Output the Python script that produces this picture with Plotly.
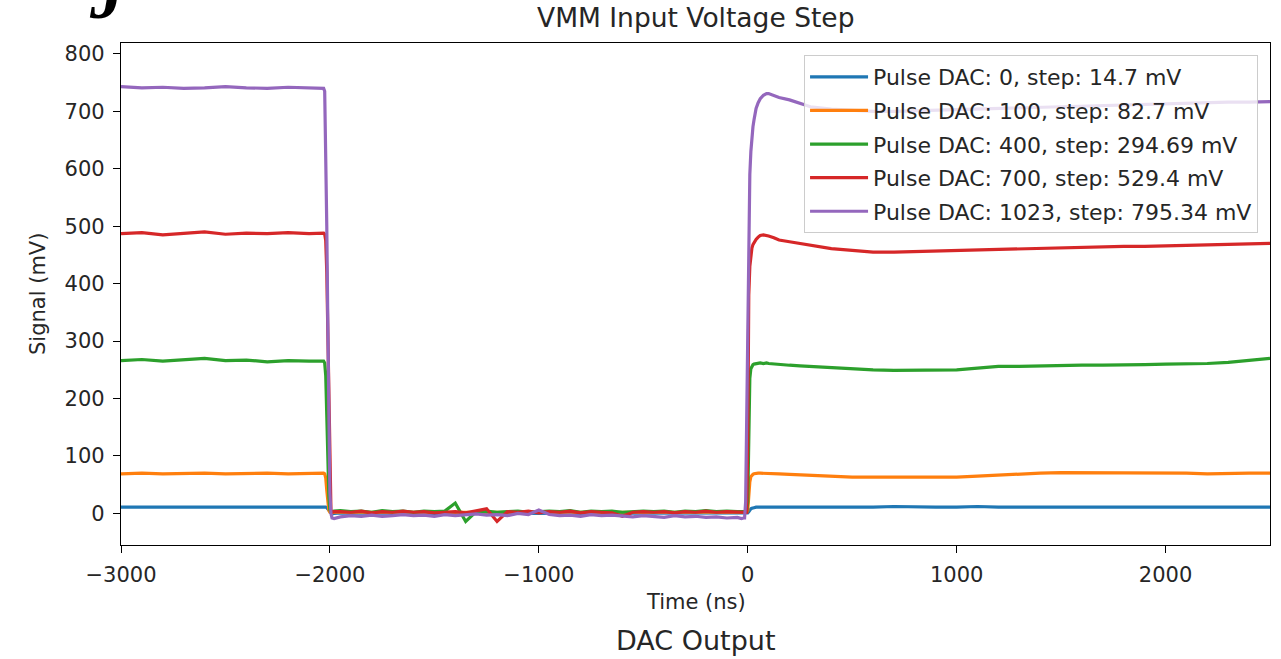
import plotly.graph_objects as go

# ---------------- data ----------------
time_ns = [
    -3000, -2900, -2800, -2700, -2600, -2500, -2400, -2300, -2200, -2100,
    -2050, -2030, -2025, -2020, -2015, -2010, -2005, -2000, -1995, -1990, -1980,
    -1950, -1900, -1850, -1800, -1750, -1700, -1650, -1600, -1550, -1500,
    -1450, -1400, -1350, -1300, -1250, -1200, -1150, -1100, -1050, -1000,
    -950, -900, -850, -800, -750, -700, -650, -600, -550, -500,
    -450, -400, -350, -300, -250, -200, -150, -100, -50,
    -30, -20, -15, -10, -5, 0, 5, 10, 15, 20, 25, 30,
    40, 50, 60, 75, 90, 100, 125, 150, 200, 250, 300,
    400, 500, 600, 700, 800, 900, 1000, 1100, 1200, 1300, 1400,
    1500, 1600, 1700, 1800, 1900, 2000, 2100, 2200, 2300, 2400, 2500,
]

signal_dac0 = [
    11, 11, 12, 11, 11, 12, 11, 11, 12, 11,
    11, 11, 11, 11, 10, 8, 5, 2, 0, -1, 0,
    1, 0, 1, 0, 1, 0, 1, 0, 1, 0,
    0, 1, 0, 1, 0, 0, 1, 0, 1, 0,
    0, 1, 0, 0, 1, 0, 1, 0, 0, 1,
    0, 1, 0, 0, 1, 0, 0, 1, 0,
    0, 0, 0, 0, 0, 1, 3, 6, 8, 9, 10, 10,
    11, 11, 11, 11, 11, 11, 11, 10, 10, 11, 11,
    11, 11, 11, 12, 11, 11, 11, 12, 11, 11, 11,
    11, 12, 11, 11, 12, 11, 11, 12, 11, 11, 11,
]

signal_dac100 = [
    69, 70, 69, 70, 70, 69, 70, 70, 69, 70,
    70, 70, 69, 62, 40, 15, 5, 2, 1, 1, 2,
    2, 1, 2, 1, 2, 1, 2, 2, 1, 2,
    1, 2, 1, 2, 1, 2, 1, 2, 1, 2,
    2, 1, 2, 1, 2, 1, 2, 1, 2, 1,
    2, 1, 2, 1, 2, 1, 2, 1, 2,
    1, 1, 1, 1, 2, 5, 35, 55, 64, 67, 68, 69,
    70, 70, 70, 70, 70, 69, 69, 69, 68, 67, 66,
    64, 63, 63, 63, 62, 63, 63, 65, 67, 69, 70,
    71, 71, 71, 70, 70, 70, 70, 69, 70, 70, 70,
]

signal_dac400 = [
    266, 268, 265, 268, 270, 266, 267, 264, 266, 265,
    266, 265, 262, 240, 170, 90, 30, 6, 2, 3, 4,
    5, 3, 4, 2, 5, 3, 4, 2, 4, 3,
    4, 18, -14, 3, 4, 2, 3, 4, 2, 3,
    4, 3, 5, 2, 4, 3, 4, 2, 3, 4,
    3, 4, 2, 4, 3, 5, 3, 4, 3,
    3, 3, 3, 3, 3, 20, 150, 235, 252, 257, 259, 260,
    261, 262, 262, 261, 262, 261, 260, 259, 258, 257, 256,
    253, 251, 250, 249, 249, 250, 250, 253, 256, 256, 257,
    257, 258, 258, 258, 259, 260, 260, 261, 263, 266, 270,
]

signal_dac700 = [
    487, 489, 485, 488, 490, 486, 488, 487, 489, 487,
    487, 488, 486, 475, 420, 300, 160, 40, 6, 2, 3,
    3, 2, 4, 1, 3, 2, 4, 2, 3, 1,
    2, 3, 1, 5, 8, -14, 3, 2, 4, 1,
    3, 2, 4, 1, 3, 2, 1, -5, 2, 3,
    2, 3, 1, 3, 2, 4, 2, 3, 2,
    2, 2, 2, 2, 2, 120, 380, 430, 450, 462, 468, 472,
    477, 481, 484, 485, 484, 483, 480, 476, 473, 470, 466,
    461, 458, 455, 455, 456, 456, 458, 459, 460, 461, 462,
    463, 464, 464, 465, 465, 466, 467, 467, 468, 469, 470,
]

signal_dac1023 = [
    743, 741, 742, 740, 741, 743, 741, 740, 742, 741,
    740, 740, 735, 640, 500, 330, 150, 35, 0, -8, -9,
    -6, -4, -5, -3, -5, -4, -2, -4, -3, -5,
    -2, -4, -3, -1, -3, -2, -4, 0, -2, 6,
    -2, -4, -3, -5, -2, -4, -3, -5, -6, -4,
    -5, -7, -4, -6, -5, -7, -6, -8, -7,
    -9, -8, -8, 20, 180, 380, 500, 590, 630, 655, 673, 685,
    705, 715, 722, 728, 731, 731, 728, 724, 720, 714, 708,
    704, 702, 700, 700, 701, 702, 704, 705, 706, 707, 708,
    709, 710, 711, 711, 712, 713, 714, 715, 716, 716, 717,
]

series_names = [
    "Pulse DAC: 0, step: 14.7 mV",
    "Pulse DAC: 100, step: 82.7 mV",
    "Pulse DAC: 400, step: 294.69 mV",
    "Pulse DAC: 700, step: 529.4 mV",
    "Pulse DAC: 1023, step: 795.34 mV",
]
series_values = [signal_dac0, signal_dac100, signal_dac400, signal_dac700, signal_dac1023]
series_colors = ["#1f77b4", "#ff7f0e", "#2ca02c", "#d62728", "#9467bd"]

x_ticks = [-3000, -2000, -1000, 0, 1000, 2000]
y_ticks = [0, 100, 200, 300, 400, 500, 600, 700, 800]

# ---------------- figure ----------------
FONT = "DejaVu Sans"
TXT = "#262626"

fig = go.Figure()
for i, (name, vals, col) in enumerate(zip(series_names, series_values, series_colors)):
    fig.add_trace(go.Scatter(
        x=time_ns, y=vals, mode="lines", name=name, legendgroup=f"g{i}",
        line=dict(color=col, width=3.2),
    ))

axis_common = dict(
    showline=True, mirror=True, linecolor="black", linewidth=1.3,
    ticks="outside", ticklen=7, tickwidth=1.3, tickcolor="black",
    tickfont=dict(family=FONT, size=21, color=TXT),
    showgrid=False, zeroline=False,
)

fig.update_layout(
    width=1281, height=659,
    margin=dict(l=121, r=11, t=43, b=114),
    paper_bgcolor="white", plot_bgcolor="white",
    font=dict(family=FONT, size=21, color=TXT),
    xaxis=dict(range=[-3000, 2500], tickvals=x_ticks, ticklabelstandoff=4, **axis_common),
    yaxis=dict(range=[-55, 819], tickvals=y_ticks, ticklabelstandoff=4, **axis_common),
    showlegend=True,
    legend=dict(
        x=0.9896, y=0.976, xanchor="right", yanchor="top",
        bgcolor="rgba(255,255,255,0.8)", bordercolor="#cccccc", borderwidth=1,
        font=dict(family=FONT, size=22, color=TXT),
        itemwidth=58, tracegroupgap=2,
    ),
    annotations=[
        dict(text="VMM Input Voltage Step", xref="paper", yref="paper",
             x=0.5, y=1.0, yshift=8, xanchor="center", yanchor="bottom",
             showarrow=False, font=dict(family=FONT, size=26.5, color=TXT)),
        dict(text="Signal (mV)", xref="paper", yref="paper",
             x=0, xshift=-83, y=0.5, xanchor="center", yanchor="middle",
             textangle=-90, showarrow=False, font=dict(family=FONT, size=21, color=TXT)),
        dict(text="Time (ns)", xref="paper", yref="paper",
             x=0.5, y=0, yshift=-57, xanchor="center", yanchor="middle",
             showarrow=False, font=dict(family=FONT, size=21, color=TXT)),
        dict(text="DAC Output", xref="paper", yref="paper",
             x=0.5, y=0, yshift=-95, xanchor="center", yanchor="middle",
             showarrow=False, font=dict(family=FONT, size=27, color=TXT)),
        dict(text="J", xref="paper", yref="paper",
             x=0, xshift=-13, y=1, yshift=8, xanchor="center", yanchor="bottom",
             showarrow=False,
             font=dict(family="Liberation Serif", size=70, color="black",
                       weight="bold", style="italic")),
        dict(text="300", xref="paper", yref="paper",
             x=0, xshift=-77, y=0, yshift=-110, xanchor="center", yanchor="top",
             showarrow=False, font=dict(family=FONT, size=17, color="#999999")),
    ],
)

fig.write_html("out.html")
